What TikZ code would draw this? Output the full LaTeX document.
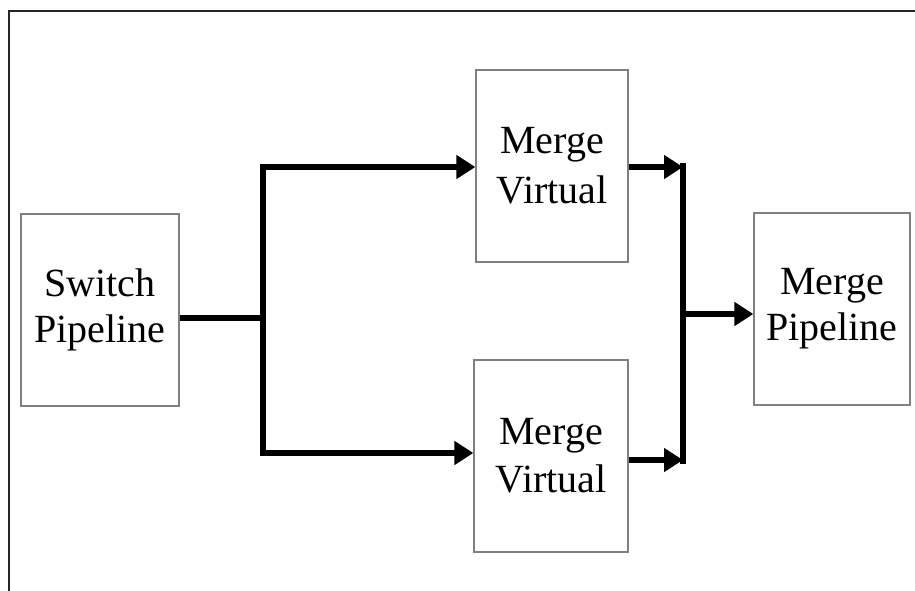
\documentclass[tikz,border=0pt]{standalone}
\usepackage{fontspec}
\setmainfont{Liberation Serif}
\usetikzlibrary{arrows.meta}
\definecolor{boxgray}{RGB}{128,128,128}
\tikzset{
  blockbox/.style={draw=boxgray, line width=1.3pt, minimum height=192pt, inner sep=0pt,
    align=center, font=\fontsize{40}{46}\selectfont},
  flow/.style={line width=6.5pt, -{Triangle[length=19pt,width=23pt]}},
  trunk/.style={line width=6.5pt}
}
\begin{document}
\begin{tikzpicture}[x=1pt,y=1pt]
\useasboundingbox (0,0) rectangle (915,-591);
% frame
\draw[line width=2pt, black!85] (8.5,-591) -- (8.5,-11) -- (915,-11);
% boxes
\node[blockbox, minimum width=158pt] (sw) at (100,-310) {Switch\\Pipeline};
\node[blockbox, minimum width=152pt] (mv1) at (552,-166) {Merge\\[4pt]Virtual};
\node[blockbox, minimum width=154pt] (mv2) at (551,-456) {Merge\\[2pt]Virtual};
\node[blockbox, minimum width=156pt] (mp) at (832,-309) {Merge\\Pipeline};
% left junction
\coordinate (j1) at (263,-318);
\draw[trunk] (sw.east |- j1) -- (j1);
\draw[flow] (j1) |- ([yshift=-1pt]mv1.west);
\draw[flow] (j1) |- ([yshift=3pt]mv2.west);
% right junction
\coordinate (j2top) at (683,-163);
\coordinate (j2bot) at (683,-464);
\coordinate (j2) at (683,-314);
\draw[trunk] (j2top) -- (j2bot);
\draw[flow] ([yshift=-1pt]mv1.east) -- ([yshift=-1pt]mv1.east -| j2);
\draw[flow] ([yshift=-4pt]mv2.east) -- ([yshift=-4pt]mv2.east -| j2);
\draw[flow] (j2) -- (j2 -| mp.west);
\end{tikzpicture}
\end{document}
